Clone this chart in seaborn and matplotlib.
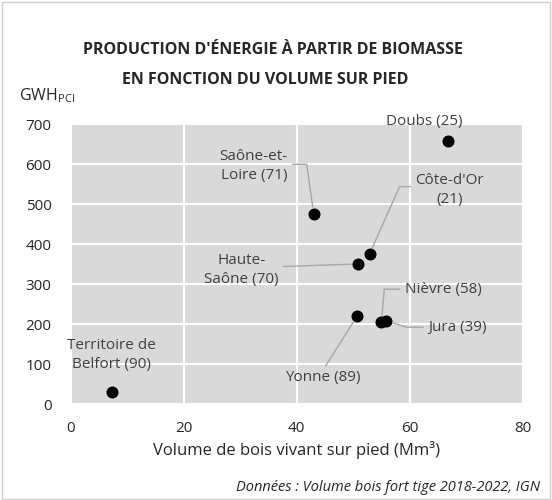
import matplotlib
matplotlib.use("Agg")
import matplotlib.pyplot as plt
import seaborn as sns
import pandas as pd
from matplotlib.patches import Rectangle

departements = ["Territoire de\nBelfort (90)", "Yonne (89)", "Nièvre (58)", "Jura (39)",
                "Saône-et-\nLoire (71)", "Côte-d'Or\n(21)", "Haute-\nSaône (70)", "Doubs (25)"]
volume = [7.2, 50.7, 55.0, 55.8, 43.0, 52.9, 50.9, 66.8]
energie = [30, 220, 205, 208, 475, 375, 350, 657]

x_ticks = [0, 20, 40, 60, 80]
y_ticks = [0, 100, 200, 300, 400, 500, 600, 700]

df = pd.DataFrame({"dep": departements, "vol": volume, "gwh": energie})

sns.set_theme(style="white")
plt.rcParams["font.family"] = ["Open Sans", "DejaVu Sans"]
plt.rcParams["mathtext.fontset"] = "custom"
plt.rcParams["mathtext.rm"] = "Open Sans"

fig = plt.figure(figsize=(5.52, 5.0), dpi=100)
ax = fig.add_axes([0.1286, 0.192, 0.818, 0.56])
ax.set_facecolor("#d9d9d9")

sns.scatterplot(data=df, x="vol", y="gwh", ax=ax, color="black", s=75,
                edgecolor="black", linewidth=0, zorder=3)

ax.set_xlim(0, 80)
ax.set_ylim(0, 700)
ax.set_xticks(x_ticks)
ax.set_yticks(y_ticks)
ax.grid(True, color="white", linewidth=1.5)
ax.set_axisbelow(True)
for s in ax.spines.values():
    s.set_visible(False)
ax.tick_params(axis="both", length=0, labelsize=11, labelcolor="#262626")
ax.tick_params(axis="x", pad=12)
ax.tick_params(axis="y", pad=14)
ax.set_xlabel("Volume de bois vivant sur pied (Mm³)", fontsize=12, color="#262626", labelpad=4)
ax.set_ylabel("")

# label layout: (text position in data units, relpos, connection style)
layout = {
    "Territoire de\nBelfort (90)": dict(xytext=(7.1, 122), line=None),
    "Yonne (89)": dict(xytext=(44.6, 65), line=dict(relpos=(0.5, 1.0), cs="arc3,rad=0")),
    "Nièvre (58)": dict(xytext=(65.9, 287), line=dict(relpos=(0.0, 0.5), cs="angle,angleA=0,angleB=85,rad=0")),
    "Jura (39)": dict(xytext=(68.4, 192), line=dict(relpos=(0.0, 0.5), cs="angle,angleA=0,angleB=-17,rad=0")),
    "Saône-et-\nLoire (71)": dict(xytext=(32.4, 595), line=dict(relpos=(1.0, 0.55), cs="angle,angleA=0,angleB=98,rad=0")),
    "Côte-d'Or\n(21)": dict(xytext=(67.1, 535), line=dict(relpos=(0.0, 0.6), cs="angle,angleA=0,angleB=66,rad=0")),
    "Haute-\nSaône (70)": dict(xytext=(30.2, 335), line=dict(relpos=(1.0, 0.6), cs="arc3,rad=0")),
    "Doubs (25)": dict(xytext=(62.6, 705), line=None),
}

for dep, vx, vy in zip(departements, volume, energie):
    lay = layout[dep]
    kw = dict(ha="center", va="center", fontsize=11, color="#404040",
              linespacing=1.35, annotation_clip=False)
    if lay["line"] is not None:
        kw["arrowprops"] = dict(arrowstyle="-", color="#a6a6a6", lw=1.0,
                                shrinkA=1, shrinkB=5,
                                relpos=lay["line"]["relpos"],
                                connectionstyle=lay["line"]["cs"])
    ax.annotate(dep, xy=(vx, vy), xytext=lay["xytext"], textcoords="data", **kw)

fig.text(0.495, 0.9, "PRODUCTION D'ÉNERGIE À PARTIR DE BIOMASSE", ha="center", va="center",
         fontsize=11.5, fontweight="bold", color="#262626")
fig.text(0.48, 0.84, "EN FONCTION DU VOLUME SUR PIED", ha="center", va="center",
         fontsize=11.5, fontweight="bold", color="#262626")
fig.text(0.035, 0.808, r"GWH$_{\mathrm{PCI}}$", ha="left", va="center", fontsize=11.5, color="#262626")
fig.text(0.978, 0.025, "Données : Volume bois fort tige 2018-2022, IGN", ha="right", va="center",
         fontsize=10.5, style="italic", color="#262626")

fig.patches.append(Rectangle((0.003, 0.003), 0.994, 0.994, transform=fig.transFigure,
                             fill=False, edgecolor="#d0d0d0", lw=1))

fig.savefig("out.png", dpi=100)
